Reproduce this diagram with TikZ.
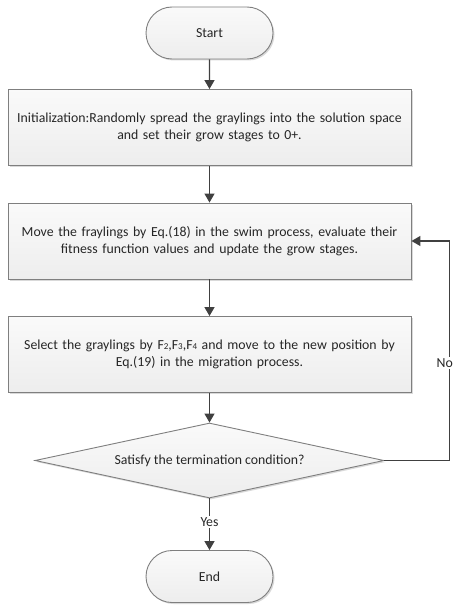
\documentclass[tikz,border=0pt]{standalone}
\usepackage{fontspec}
\setmainfont{Carlito}
\usetikzlibrary{shapes.geometric,shapes.misc,arrows.meta,shadows}
\definecolor{edgegray}{HTML}{7F7F7F}
\definecolor{linegray}{HTML}{404040}
\begin{document}
\begin{tikzpicture}[x=1pt,y=-1pt,
  every node/.style={font=\fontsize{13.8}{17}\selectfont, text=black!85},
  flowbox/.style={draw=edgegray, line width=0.9pt, top color=gray!4, bottom color=gray!14,
    drop shadow={shadow xshift=1.5pt, shadow yshift=-1.5pt, fill=black!25, opacity=0.6},
    minimum width=403pt, minimum height=76pt, inner sep=0pt, align=center, text width=400pt},
  termbox/.style={flowbox, rounded rectangle, minimum width=127pt, minimum height=52pt, text width=},
  decbox/.style={flowbox, diamond, aspect=4.65, minimum width=349pt, minimum height=75pt, text width=},
  conn/.style={draw=linegray, line width=1.3pt, -{Triangle[length=9pt,width=10pt]}},
  lbl/.style={fill=white, inner sep=1.5pt}
]
\useasboundingbox (0,0) rectangle (454,607);
\node[termbox] (start) at (209.5,33) {Start};
\node[flowbox] (init) at (209.5,127.5) {Initialization:Randomly spread the graylings into the solution space\\and set their grow stages to 0+.};
\node[flowbox] (move) at (209.5,241) {Move the fraylings by Eq.(18) in the swim process, evaluate their\\fitness function values and update the grow stages.};
\node[flowbox] (sel) at (209.5,354.5) {Select the graylings by F{\fontsize{9}{9}\selectfont 2},F{\fontsize{9}{9}\selectfont 3},F{\fontsize{9}{9}\selectfont 4} and move to the new position by\\Eq.(19) in the migration process.};
\node[decbox] (cond) at (209.5,460.5) {Satisfy the termination condition?};
\node[termbox] (end) at (209.5,576.5) {End};
\coordinate (cr) at (449.5,460.5);
\coordinate (cm) at (449.5,241);
\draw[conn] (start) -- (init);
\draw[conn] (init) -- (move);
\draw[conn] (move) -- (sel);
\draw[conn] (sel) -- (cond);
\draw[conn] (cond) -- node[lbl, pos=0.45] (yes) {Yes} (end);
\draw[conn] (cond.east) -- (cr) -- (cm) -- (move.east);
\node[lbl, anchor=east, inner xsep=1pt] (no) at (454,363) {No};
\end{tikzpicture}
\end{document}
